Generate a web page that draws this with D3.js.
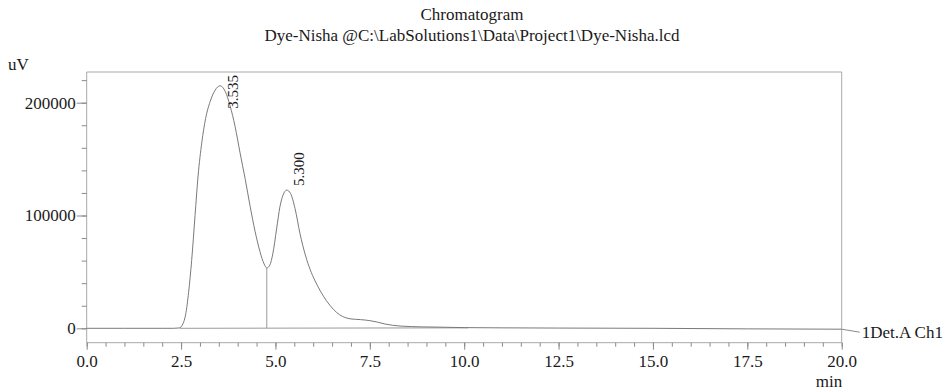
<!DOCTYPE html>
<html>
<head>
<meta charset="utf-8">
<script src="https://cdn.jsdelivr.net/npm/d3@7"></script>
<style>
  body { margin: 0; background: #fff; }
  text { font-family: "Liberation Serif", "Times New Roman", serif; fill: #1a1a1a; }
</style>
</head>
<body>
<svg id="chart"></svg>
<script>
// chromatogram trace (time in min, signal in uV)
const times = [0, 1, 2, 2.3, 2.45, 2.55, 2.62, 2.7, 2.78, 2.87, 2.95, 3.05, 3.15, 3.27, 3.4, 3.535,
  3.67, 3.8, 3.93, 4.06, 4.2, 4.33, 4.46, 4.59, 4.7, 4.77, 4.85, 4.93, 5.03, 5.12, 5.2, 5.3,
  5.4, 5.52, 5.65, 5.8, 5.92, 6.05, 6.19, 6.35, 6.53, 6.7, 6.85, 7.0, 7.25, 7.5, 7.7, 7.9,
  8.1, 8.3, 8.6, 9.2, 10.0, 11, 12.5, 15, 17.5, 20];
const signal = [0, 0, 0, 0, 300, 4000, 12000, 32000, 60000, 100000, 135000, 165000, 186000, 201000, 211000, 215000,
  210000, 197000, 179000, 156000, 132000, 108000, 86000, 68000, 57000, 53500, 56000, 66000, 88000, 108000, 118000, 122500,
  119500, 106000, 84000, 64000, 52000, 42000, 33000, 24500, 17000, 12000, 9500, 8300, 7700, 6800, 5500, 3800,
  2700, 2000, 1500, 1100, 600, 400, 200, 0, -500, -800];

// integration baseline and peak marks
const baseTimes = [2.47, 10.1];
const baseValues = [0, 400];
const peakTimes = [3.535, 5.300];
const peakHeights = [215000, 122500];
const peakLabels = ['3.535', '5.300'];
const dropTime = 4.77;
const dropValue = 53500;

const xMajor = [0, 2.5, 5, 7.5, 10, 12.5, 15, 17.5, 20];
const yMajor = [0, 100000, 200000];

const title1 = 'Chromatogram';
const title2 = 'Dye-Nisha @C:\\LabSolutions1\\Data\\Project1\\Dye-Nisha.lcd';
const channel = '1Det.A Ch1';

function makeChart() {
  let w = 944;
  let h = 392;
  let left = 86.7, right = 841.7, top = 72, bottom = 342.7;

  let svg = d3.select('#chart')
    .attr('width', w)
    .attr('height', h);

  let xScale = d3.scaleLinear()
    .domain([0, 20])
    .range([left, right]);

  let yScale = d3.scaleLinear()
    .domain([0, 200000])
    .range([328.3, 102.7]);

  // titles
  svg.append('text')
    .attr('x', w / 2).attr('y', 20)
    .attr('text-anchor', 'middle')
    .attr('font-size', '17px')
    .text(title1);
  svg.append('text')
    .attr('x', w / 2).attr('y', 41)
    .attr('text-anchor', 'middle')
    .attr('font-size', '17px')
    .text(title2);

  svg.append('text')
    .attr('x', 8).attr('y', 70)
    .attr('font-size', '17px')
    .text('uV');

  // frame
  svg.append('path')
    .attr('d', `M${left},${bottom}V${top}H${right}V${bottom}H${left}`)
    .attr('fill', 'none')
    .attr('stroke', '#a8a8a8')
    .attr('stroke-width', 1);

  // y axis: minor ticks every 20000, labels on majors
  let yMinor = d3.range(0, 220001, 20000);
  let yMinorAxis = svg.append('g')
    .attr('transform', `translate(${left},0)`)
    .call(d3.axisLeft(yScale).tickValues(yMinor).tickSize(5).tickFormat(''));
  let yAxis = svg.append('g')
    .attr('transform', `translate(${left},0)`)
    .call(d3.axisLeft(yScale).tickValues(yMajor).tickSize(10).tickPadding(1).tickFormat(d3.format('d')));

  // x axis: minor ticks every 0.5 min
  let xMinor = d3.range(0, 20.01, 0.5);
  let xMinorAxis = svg.append('g')
    .attr('transform', `translate(0,${bottom})`)
    .call(d3.axisBottom(xScale).tickValues(xMinor).tickSize(4).tickFormat(''));
  let xAxis = svg.append('g')
    .attr('transform', `translate(0,${bottom})`)
    .call(d3.axisBottom(xScale).tickValues(xMajor).tickSize(7).tickPadding(5).tickFormat(d3.format('.1f')));

  [yMinorAxis, yAxis, xMinorAxis, xAxis].forEach((g) => {
    g.select('.domain').remove();
    g.selectAll('line').attr('stroke', '#8a8a8a');
    g.selectAll('text')
      .attr('font-size', '17px')
      .attr('font-family', '"Liberation Serif", serif')
      .attr('fill', '#1a1a1a');
  });

  svg.append('text')
    .attr('x', 829).attr('y', 387)
    .attr('text-anchor', 'middle')
    .attr('font-size', '17px')
    .text('min');

  // baseline and drop line
  svg.append('line')
    .attr('x1', xScale(baseTimes[0])).attr('y1', yScale(baseValues[0]))
    .attr('x2', xScale(baseTimes[1])).attr('y2', yScale(baseValues[1]))
    .attr('stroke', '#9a9a9a');
  svg.append('line')
    .attr('x1', xScale(dropTime)).attr('y1', yScale(dropValue))
    .attr('x2', xScale(dropTime)).attr('y2', yScale(0))
    .attr('stroke', '#9a9a9a');

  // trace
  let line = d3.line()
    .x((d, i) => xScale(times[i]))
    .y((d) => yScale(d))
    .curve(d3.curveMonotoneX);

  svg.append('path')
    .datum(signal)
    .attr('d', line)
    .attr('fill', 'none')
    .attr('stroke', '#7a7a7a')
    .attr('stroke-width', 1);

  // peak labels, rotated
  let nudges = [[18, 23], [17, -4]];
  svg.selectAll('.peak')
    .data(peakLabels)
    .enter()
    .append('text')
    .attr('class', 'peak')
    .attr('font-size', '15px')
    .attr('transform', (d, i) => {
      let px = xScale(peakTimes[i]) + nudges[i][0];
      let py = yScale(peakHeights[i]) + nudges[i][1];
      return `translate(${px},${py}) rotate(-90)`;
    })
    .text((d) => d);

  // channel label with leader
  let endX = xScale(times[times.length - 1]);
  let endY = yScale(signal[signal.length - 1]);
  svg.append('line')
    .attr('x1', endX).attr('y1', endY)
    .attr('x2', endX + 18).attr('y2', endY + 3)
    .attr('stroke', '#8a8a8a');
  svg.append('text')
    .attr('x', endX + 20).attr('y', endY + 3)
    .attr('dy', '0.35em')
    .attr('font-size', '17px')
    .text(channel);
}

makeChart();
</script>
</body>
</html>
